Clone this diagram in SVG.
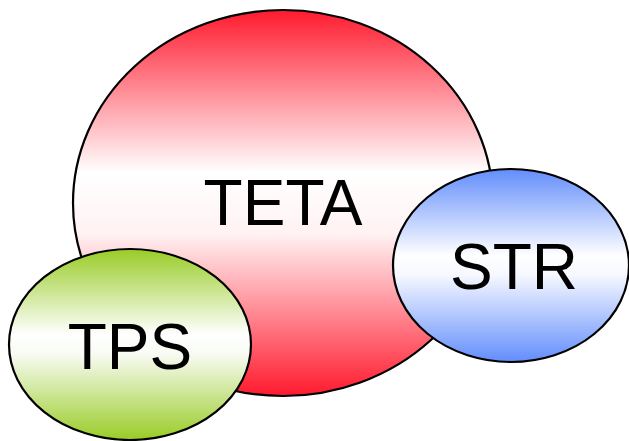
<svg xmlns="http://www.w3.org/2000/svg" width="629" height="441" viewBox="0 0 629 441">
<defs>
<linearGradient id="gRed" x1="0" y1="0" x2="0" y2="1">
<stop offset="0" stop-color="#ff1a2e"/>
<stop offset="0.42" stop-color="#ffffff"/>
<stop offset="0.58" stop-color="#fff2f3"/>
<stop offset="1" stop-color="#ff1a2e"/>
</linearGradient>
<linearGradient id="gBlue" x1="0" y1="0" x2="0" y2="1">
<stop offset="0" stop-color="#628dfc"/>
<stop offset="0.45" stop-color="#ffffff"/>
<stop offset="0.55" stop-color="#f6f8ff"/>
<stop offset="1" stop-color="#628dfc"/>
</linearGradient>
<linearGradient id="gGreen" x1="0" y1="0" x2="0" y2="1">
<stop offset="0" stop-color="#99cc26"/>
<stop offset="0.45" stop-color="#ffffff"/>
<stop offset="0.55" stop-color="#f8fbf3"/>
<stop offset="1" stop-color="#99cc26"/>
</linearGradient>
</defs>
<style>
ellipse { stroke: #000; stroke-width: 2.2; }
text { font-family: "Liberation Sans", Arial, sans-serif; font-size: 64px; fill: #000; text-anchor: middle; }
</style>
<g id="connectors"></g>
<g id="teta">
<ellipse cx="283" cy="203" rx="210" ry="193" fill="url(#gRed)"/>
<text x="283" y="225">TETA</text>
</g>
<g id="str">
<ellipse cx="511" cy="265.5" rx="118" ry="96.5" fill="url(#gBlue)"/>
<text x="514" y="289">STR</text>
</g>
<g id="tps">
<ellipse cx="130" cy="344.5" rx="121" ry="95.5" fill="url(#gGreen)"/>
<text x="130" y="369">TPS</text>
</g>
</svg>
